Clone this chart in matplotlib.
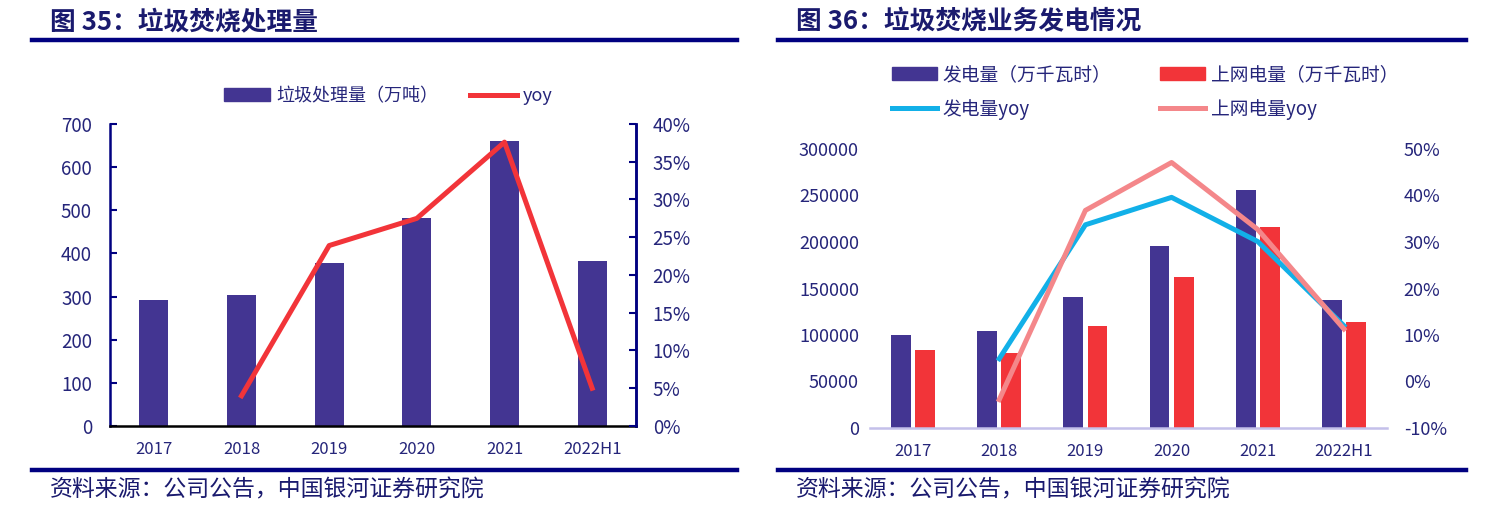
import matplotlib.pyplot as plt
from matplotlib.lines import Line2D
from matplotlib.patches import Patch
import numpy as np

plt.rcParams['font.family'] = ['Noto Sans CJK SC', 'DejaVu Sans']

# ---- data ----
years = ["2017", "2018", "2019", "2020", "2021", "2022H1"]

waste_vol = [292, 304, 378, 482, 660, 382]          # 万吨
waste_yoy = [np.nan, 4.0, 23.9, 27.5, 37.6, 5.0]   # %

gen_power = [99600, 104700, 140500, 195700, 256300, 137300]   # 万千瓦时
grid_power = [83900, 80700, 110000, 162400, 215800, 114300]   # 万千瓦时
gen_yoy = [np.nan, 4.9, 33.7, 39.6, 30.1, 12.0]     # %
grid_yoy = [np.nan, -3.9, 36.8, 47.1, 32.7, 11.3]   # %

NAVY = "#000080"
TXT = "#25257a"
BAR = "#433592"
RED = "#f23439"
BLUE = "#12b0e8"
PINK = "#f4878a"

fig = plt.figure(figsize=(14.94, 5.17), dpi=100)

# headers / footers
for x0, x1, title in [(32, 737, "图 35：垃圾焚烧处理量"), (778, 1466, "图 36：垃圾焚烧业务发电情况")]:
    fig.add_artist(Line2D([x0 / 1494, x1 / 1494], [1 - 40 / 517] * 2, color=NAVY, lw=3.2))
    fig.add_artist(Line2D([x0 / 1494, x1 / 1494], [1 - 470 / 517] * 2, color=NAVY, lw=3.2))
    fig.text((x0 + 18) / 1494, 1 - 22 / 517, title, fontsize=18.5, fontweight="bold",
             color="#1a1a6e", va="center", ha="left")
    fig.text((x0 + 18) / 1494, 1 - 490 / 517, "资料来源：公司公告，中国银河证券研究院",
             fontsize=16.5, style="italic", color="#1a1a6e", va="center", ha="left")

x = np.arange(len(years))

# ---- left chart ----
ax = fig.add_axes([110 / 1494, 1 - 426 / 517, 526 / 1494, 302 / 517])
ax.bar(x, waste_vol, width=0.33, color=BAR, zorder=2)
ax.set_xlim(-0.5, 5.5)
ax.set_ylim(0, 700)
ax.set_yticks(range(0, 701, 100))
ax.set_xticks(x)
ax.set_xticklabels(years)
ax.spines["top"].set_visible(False)
ax.spines["left"].set_color(NAVY)
ax.spines["right"].set_color(NAVY)
ax.spines["bottom"].set_color("black")
for s in ["left", "right", "bottom"]:
    ax.spines[s].set_linewidth(1.8)
ax.tick_params(axis="y", direction="in", length=5, width=1.5, color=NAVY, labelcolor=TXT,
               labelsize=13.5, pad=13)
ax.tick_params(axis="x", length=0, labelcolor=TXT, labelsize=12, pad=11)

ax2 = ax.twinx()
ax2.plot(x, waste_yoy, color=RED, lw=3.6, zorder=3)
ax2.set_ylim(0, 40)
ax2.set_yticks(range(0, 41, 5))
ax2.set_yticklabels([f"{v}%" for v in range(0, 41, 5)])
for s in ["top", "left", "bottom"]:
    ax2.spines[s].set_visible(False)
ax2.spines["right"].set_color(NAVY)
ax2.spines["right"].set_linewidth(1.8)
ax2.tick_params(axis="y", direction="in", length=5, width=1.5, color=NAVY, labelcolor=TXT,
                labelsize=13.5, pad=12)

handles = [Patch(color=BAR), Line2D([], [], color=RED, lw=3.6)]
fig.legend(handles, ["垃圾处理量（万吨）", "yoy"], loc="center", ncol=2,
           bbox_to_anchor=(388 / 1494, 1 - 96 / 517), frameon=False, fontsize=13,
           labelcolor=TXT, handlelength=2.6, handletextpad=0.3, columnspacing=1.8)

# ---- right chart ----
bx = fig.add_axes([870 / 1494, 1 - 428 / 517, 517 / 1494, 279 / 517])
bw = 0.23
bx.bar(x - 0.14, gen_power, width=bw, color=BAR, zorder=2)
bx.bar(x + 0.14, grid_power, width=bw, color=RED, zorder=2)
bx.set_xlim(-0.5, 5.5)
bx.set_ylim(0, 300000)
bx.set_yticks(range(0, 300001, 50000))
bx.set_xticks(x)
bx.set_xticklabels(years)
for s in ["top", "left", "right"]:
    bx.spines[s].set_visible(False)
bx.spines["bottom"].set_color("#c4c0ea")
bx.spines["bottom"].set_linewidth(1.8)
bx.tick_params(axis="both", length=0, labelcolor=TXT, labelsize=13)
bx.tick_params(axis="y", pad=8)
bx.tick_params(axis="x", labelsize=12, pad=11)

bx2 = bx.twinx()
bx2.plot(x, gen_yoy, color=BLUE, lw=3.6, zorder=3)
bx2.plot(x, grid_yoy, color=PINK, lw=3.6, zorder=3)
bx2.set_ylim(-10, 50)
bx2.set_yticks(range(-10, 51, 10))
bx2.set_yticklabels([f"{v}%" for v in range(-10, 51, 10)])
for s in ["top", "left", "right", "bottom"]:
    bx2.spines[s].set_visible(False)
bx2.tick_params(axis="y", length=0, labelcolor=TXT, labelsize=13, pad=12)

handles = [Patch(color=BAR), Patch(color=RED),
           Line2D([], [], color=BLUE, lw=3.6), Line2D([], [], color=PINK, lw=3.6)]
labels = ["发电量（万千瓦时）", "上网电量（万千瓦时）", "发电量yoy", "上网电量yoy"]
order = [0, 2, 1, 3]
fig.legend([handles[i] for i in order], [labels[i] for i in order], loc="upper left", ncol=2,
           bbox_to_anchor=(875 / 1494, 1 - 47 / 517), frameon=False, fontsize=13.5,
           labelcolor=TXT, handlelength=2.4, handletextpad=0.3, columnspacing=2.6,
           labelspacing=0.75)

fig.savefig("out.png", dpi=100)
